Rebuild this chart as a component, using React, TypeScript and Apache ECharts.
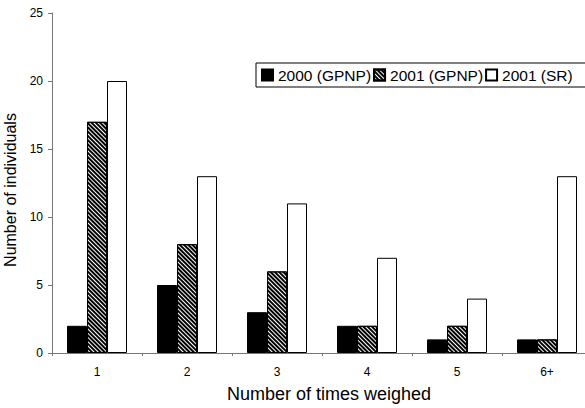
import React, { useEffect, useRef } from "react";
import * as echarts from "echarts";

const categories = ["1", "2", "3", "4", "5", "6+"];
const seriesNames = ["2000 (GPNP)", "2001 (GPNP)", "2001 (SR)"];
const gpnp2000 = [2, 5, 3, 2, 1, 1];
const gpnp2001 = [17, 8, 6, 2, 2, 1];
const sr2001 = [20, 13, 11, 7, 4, 13];
const yTicks = { min: 0, max: 25, interval: 5 };

const FONT = "'Liberation Sans', Arial, Helvetica, sans-serif";

export default function App() {
  const ref = useRef<HTMLDivElement>(null);
  useEffect(() => {
    if (!ref.current) return;
    const chart = echarts.init(ref.current, null, { renderer: "svg" });
    const border = { borderColor: "#000", borderWidth: 1 };
    chart.setOption({
      animation: false,
      backgroundColor: "#fff",
      textStyle: { fontFamily: FONT, color: "#000" },
      grid: {
        left: 52,
        top: 13,
        width: 540,
        height: 340,
        containLabel: false,
        outerBoundsMode: "none",
      },
      legend: {
        left: 256,
        top: 63,
        width: 400,
        orient: "horizontal",
        itemWidth: 11,
        itemHeight: 11,
        itemGap: 2,
        padding: [4, 14, 4, 5],
        borderColor: "#000",
        borderWidth: 1,
        textStyle: { fontSize: 15.5, fontFamily: FONT, color: "#000" },
        data: seriesNames.map((n) => ({ name: n, icon: "rect" })),
      },
      xAxis: {
        type: "category",
        data: categories,
        name: "Number of times weighed",
        nameLocation: "middle",
        nameGap: 32,
        nameTextStyle: { fontSize: 18, fontFamily: FONT, color: "#000", padding: [0, 0, 0, 14] },
        axisLine: { lineStyle: { color: "#777", width: 1 } },
        axisTick: { show: true, length: 3, lineStyle: { color: "#777" } },
        axisLabel: { fontSize: 12, margin: 13, color: "#000", fontFamily: FONT },
      },
      yAxis: {
        type: "value",
        min: yTicks.min,
        max: yTicks.max,
        interval: yTicks.interval,
        name: "Number of individuals",
        nameLocation: "middle",
        nameGap: 24,
        nameTextStyle: { fontSize: 16, fontFamily: FONT, color: "#000", padding: [0, 14, 0, 0] },
        axisLine: { show: true, lineStyle: { color: "#777", width: 1 } },
        axisTick: { show: true, length: 4, lineStyle: { color: "#777" } },
        axisLabel: { fontSize: 12, margin: 9, color: "#000", fontFamily: FONT },
        splitLine: { show: false },
      },
      series: [
        {
          name: seriesNames[0],
          type: "bar",
          data: gpnp2000,
          barWidth: 20,
          barGap: "0%",
          itemStyle: { color: "#000", ...border },
        },
        {
          name: seriesNames[1],
          type: "bar",
          data: gpnp2001,
          barWidth: 20,
          barGap: "0%",
          itemStyle: {
            color: "#fff",
            ...border,
            decal: {
              symbol: "rect",
              color: "#000",
              backgroundColor: "#fff",
              dashArrayX: [1, 0],
              dashArrayY: [1.6, 1],
              rotation: Math.PI / 4,
            },
          },
        },
        {
          name: seriesNames[2],
          type: "bar",
          data: sr2001,
          barWidth: 20,
          barGap: "0%",
          itemStyle: { color: "#fff", ...border },
        },
      ],
    });
    return () => chart.dispose();
  }, []);
  return (
    <div
      ref={ref}
      style={{ position: "absolute", left: 0, top: 0, width: 585, height: 408 }}
    />
  );
}
